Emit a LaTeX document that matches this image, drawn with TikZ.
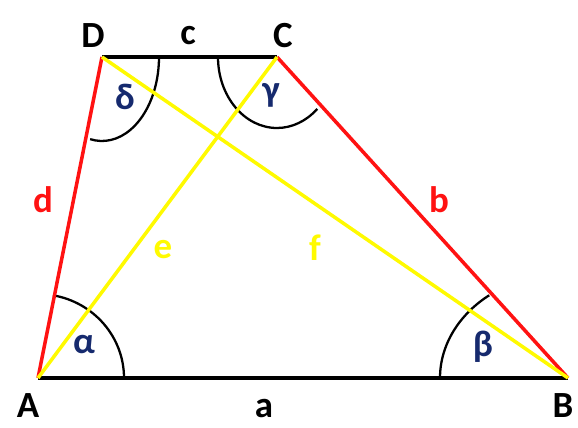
\documentclass[tikz,border=0pt]{standalone}
\usepackage{fontspec}
\setmainfont{Carlito}
\usepackage{xcolor}
\usetikzlibrary{positioning}
\definecolor{angleblue}{RGB}{22,42,110}
\definecolor{sidered}{RGB}{255,18,18}
\definecolor{diagyellow}{RGB}{255,250,0}

\begin{document}
\begin{tikzpicture}[x=0.02cm, y=-0.02cm,
    vertex/.style={font=\fontsize{21}{23}\selectfont\bfseries, text=black},
    sidelabel/.style={font=\fontsize{21}{23}\selectfont\bfseries},
    anglelabel/.style={font=\fontsize{21}{23}\selectfont\bfseries, text=angleblue},
    baseline/.style={line width=2.5pt, black},
    leg/.style={line width=2pt, sidered},
    diag/.style={line width=2pt, diagyellow},
    anglearc/.style={line width=1.3pt, black},
]
\useasboundingbox (0,0) rectangle (578,428);

% Corners
\coordinate (A) at (38,378);
\coordinate (B) at (568,378);
\coordinate (C) at (277,57);
\coordinate (D) at (102,57);

% Angle arcs
\draw[anglearc] (A) ++(86,0) arc[start angle=0, end angle=80, x radius=86, y radius=-84];
\draw[anglearc] (B) ++(-128,0) arc[start angle=180, end angle=128, x radius=128, y radius=-105];
\draw[anglearc] (C) ++(-59,0) arc[start angle=180, end angle=313, x radius=59, y radius=-71];
\draw[anglearc] (D) ++(57,0) arc[start angle=0, end angle=-102, x radius=57, y radius=-84];

% Sides
\draw[baseline] (A) -- (B);
\draw[baseline] (D) -- (C);
\draw[leg] (A) -- (D);
\draw[leg] (B) -- (C);

% Diagonals
\draw[diag] (A) -- (C);
\draw[diag] (D) -- (B);

% Vertex labels
\node[vertex] (labA) at (28,406) {A};
\node[vertex] (labB) at (563,406) {B};
\node[vertex] (labC) at (283,36) {C};
\node[vertex] (labD) at (93,36) {D};

% Side labels
\node[sidelabel, text=black] (laba) at (264,409) {a};
\node[sidelabel, text=black] (labc) at (188,36) {c};
\node[sidelabel, text=sidered] (labb) at (439,200) {b};
\node[sidelabel, text=sidered] (labd) at (43,200) {d};
\node[sidelabel, text=diagyellow] (labe) at (163,250) {e};
\node[sidelabel, text=diagyellow] (labf) at (315,248) {f};

% Angle labels
\node[anglelabel] (alpha) at (84,345) {α};
\node[anglelabel] (beta) at (483,347) {β};
\node[anglelabel] (gamma) at (271,95) {γ};
\node[anglelabel] (delta) at (125,97) {δ};

\end{tikzpicture}
\end{document}
